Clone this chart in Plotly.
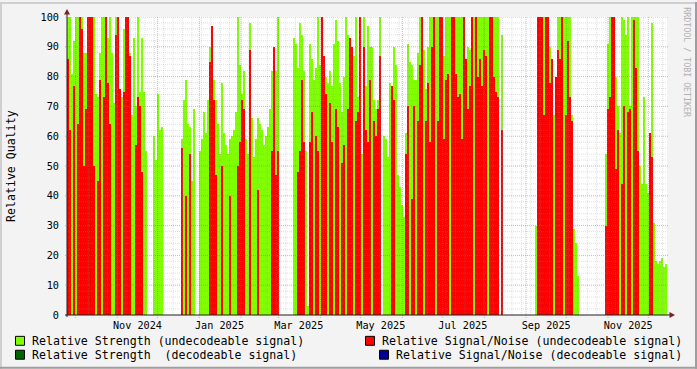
import pandas as pd
import plotly.graph_objects as go

# ---------------- data (one value per consolidation step, None = no data) ----------------
# Relative Strength (undecodeable signal)
strength_p1 = [100, 100, 81, 92, 100, 100, 100, 100, 88, 88,
               100, 100, 100, 100, 74, 73, 88, 100, 100, 100,
               93, 100, 88, 71, 100, 100, 70, 73, 96, 96,
               100, 88, 67, 93, 70, 100, 75, 93, 75, 55,
               None, None, None, 60, 52, 74, 62, 63, None, None]
strength_p2 = [None, None, None, None, None, None, None, 59, 72, 79,
               64, 63, 45, 69, None, None, 55, 59, 68, 61,
               72, 90, 97, 79, 72, 64, 54, 78, 61, 57,
               54, 59, 60, 62, 68, 100, 84, 74, 82, 59,
               54, 98, 66, 53, 59, 66, 64, 62, 57, 60]
strength_p3 = [63, 69, 82, 76, 82, 100, None, None, None, None,
               None, None, None, 93, 91, 83, 98, 94, 82, 55,
               3, 91, 86, 79, 83, 100, 84, 100, 87, 80,
               78, 82, 77, 91, 99, 92, 78, 68, 80, 100,
               94, 90, 77, 87, 100, 73, 79, 54, 100, 77]
strength_p4 = [97, 90, 90, 72, 69, 72, 100, None, 60, 59,
               53, 78, 76, 90, 84, 47, 43, 37, 33, 61,
               91, 85, 84, 79, 79, 88, 100, 100, 89, 76,
               90, 100, 100, 100, 100, 100, 100, 100, 87, 100,
               100, 100, 100, 100, 100, 100, 100, 100, 100, 75]
strength_p5 = [90, 89, 100, 100, 100, 100, 100, 100, 100, 100,
               100, 100, 100, 100, 100, 100, None, 94, None, None,
               None, None, None, None, None, None, None, None, None, None,
               None, None, None, None, 30, 100, 100, 100, 100, 100,
               100, 90, 78, 67, 54, 100, 100, 100, 100, 100]
strength_p6 = [100, 100, 67, 29, 24, 13, None, None, None, None,
               None, None, None, None, None, None, None, None, None, 54,
               91, 100, 85, 95, 80, 70, 61, 100, 99, 94,
               100, 70, 100, 100, 100, 100, 50, 44, 73, 44,
               41, 60, 98, 31, 18, 17, 18, 19, 16, 17]

# Relative Signal/Noise (undecodeable signal)
snr_p1 = [86, 62, 0, 77, 0, 64, 100, 96, 50, 69,
          100, 100, 100, 50, 0, 45, 79, 0, 73, 100,
          78, 64, 0, 0, 94, 100, 76, 0, 75, 100,
          100, 87, 0, 0, 57, 73, 70, 48, 0, 0,
          None, None, None, 0, 0, 0, 0, 0, None, None]
snr_p2 = [None, None, None, None, None, None, None, 56, 0, 40,
          0, 54, 0, 0, None, None, 0, 0, 0, 0,
          0, 85, 97, 72, 47, 0, 0, 50, 0, 0,
          0, 40, 0, 0, 0, 50, 58, 72, 69, 0,
          0, 89, 0, 0, 0, 42, 0, 0, 0, 0]
snr_p3 = [0, 0, 55, 90, 47, 55, None, None, None, None,
          None, None, None, 0, 0, 48, 55, 79, 58, 0,
          0, 58, 68, 0, 60, 55, 0, 100, 87, 74,
          0, 71, 58, 0, 69, 63, 0, 51, 57, 0,
          69, 93, 90, 0, 65, 68, 100, 0, 90, 62]
snr_p4 = [58, 79, 0, 65, 60, 69, 87, None, 0, 0,
          0, 0, 77, 72, 0, 0, 0, 0, 0, 54,
          70, 0, 39, 70, 0, 65, 84, 100, 0, 65,
          78, 58, 90, 100, 0, 65, 100, 100, 59, 79,
          81, 0, 100, 100, 81, 73, 74, 59, 100, 86]
snr_p5 = [69, 77, 100, 0, 100, 80, 86, 77, 89, 87,
          0, 100, 100, 80, 75, 73, None, 62, None, None,
          None, None, None, None, None, None, None, None, None, None,
          None, None, None, None, 0, 100, 100, 100, 67, 100,
          100, 78, 86, 0, 80, 89, 86, 100, 0, 67]
snr_p6 = [92, 73, 65, 0, 0, 0, None, None, None, None,
          None, None, None, None, None, None, None, None, None, 30,
          69, 73, 100, 100, 49, 62, 0, 44, 70, 0,
          68, 69, 0, 99, 83, 55, 0, 0, 0, 0,
          0, 61, 53, 0, 0, 0, 0, 0, 0, 0]

strength_undec = strength_p1 + strength_p2 + strength_p3 + strength_p4 + strength_p5 + strength_p6
snr_undec = snr_p1 + snr_p2 + snr_p3 + snr_p4 + snr_p5 + snr_p6

series_start = "2024-09-24 14:10"
step_hours = 35.7
x_label_months = ["2024-11-01", "2025-01-01", "2025-03-01", "2025-05-01",
                  "2025-07-01", "2025-09-01", "2025-11-01"]
x_label_text = ["Nov 2024", "Jan 2025", "Mar 2025", "May 2025",
                "Jul 2025", "Sep 2025", "Nov 2025"]
y_ticks = list(range(0, 101, 10))

legend_items = [
    ("Relative Strength (undecodeable signal)", "#80FF00"),
    ("Relative Signal/Noise (undecodeable signal)", "#FF0000"),
    ("Relative Strength\u00a0 (decodeable signal)", "#006400"),
    ("Relative Signal/Noise (decodeable signal)", "#000099"),
]

# ---------------- geometry ----------------
W, H = 697, 369
L, R, T, B = 67, 30, 15, 54
PW, PH = W - L - R, H - T - B

def px(x):
    return (x - L) / PW

def py(y):
    return (T + PH - y) / PH

step = pd.Timedelta(hours=step_hours)
t0 = pd.Timestamp(series_start)
n = len(strength_undec)
dates = [t0 + step * (i + 0.5) for i in range(n)]
t_end = t0 + step * n
bar_w = step.total_seconds() * 1000 * 1.02

FONT = "DejaVu Sans Mono"
GREEN = "#80FF00"
RED = "#FF0000"

fig = go.Figure()
fig.add_trace(go.Bar(x=dates, y=strength_undec, width=bar_w, marker=dict(color=GREEN, line=dict(width=0)),
                     name="Relative Strength (undecodeable signal)", showlegend=False))
fig.add_trace(go.Bar(x=dates, y=snr_undec, width=bar_w, marker=dict(color=RED, line=dict(width=0)),
                     name="Relative Signal/Noise (undecodeable signal)", showlegend=False))

shapes = []
MINOR = "rgba(143,143,143,0.28)"
MAJOR = "rgba(224,80,80,0.5)"
DASH = "1px,1px"
# horizontal grid
for v in range(2, 100, 2):
    if v % 10:
        shapes.append(dict(type="line", xref="paper", yref="y", x0=0, x1=1, y0=v, y1=v,
                           line=dict(color=MINOR, width=1, dash=DASH), layer="above"))
for v in range(10, 101, 10):
    shapes.append(dict(type="line", xref="paper", yref="y", x0=px(L - 2), x1=px(L + PW + 2), y0=v, y1=v,
                       line=dict(color=MAJOR, width=1, dash=DASH), layer="above"))
# vertical grid
for d in pd.date_range("2024-09-26 12:00", t_end, freq="7D"):
    if d > t0:
        shapes.append(dict(type="line", xref="x", yref="paper", x0=d, x1=d, y0=0, y1=1,
                           line=dict(color=MINOR, width=1, dash=DASH), layer="above"))
for d in pd.date_range("2024-10-01", t_end, freq="MS"):
    shapes.append(dict(type="line", xref="x", yref="paper", x0=d, x1=d, y0=py(T + PH + 3), y1=1,
                       line=dict(color=MAJOR, width=1, dash=DASH), layer="above"))
# axes with arrows
AX = "#1f1f1f"
ARROW = "#7f1f1f"
shapes.append(dict(type="line", xref="paper", yref="paper", x0=px(L - 2), x1=px(L + PW + 4),
                   y0=0, y1=0, line=dict(color=AX, width=1), layer="above"))
shapes.append(dict(type="line", xref="paper", yref="paper", x0=0, x1=0,
                   y0=py(T + PH + 2), y1=py(T - 4), line=dict(color=AX, width=1), layer="above"))
shapes.append(dict(type="path", xref="paper", yref="paper",
                   path=f"M {px(L-3)} {py(T-2.5)} L {px(L+3)} {py(T-2.5)} L {px(L)} {py(T-8)} Z",
                   fillcolor=ARROW, line=dict(width=0), layer="above"))
shapes.append(dict(type="path", xref="paper", yref="paper",
                   path=f"M {px(L+PW+2.5)} {py(T+PH-3)} L {px(L+PW+2.5)} {py(T+PH+3)} L {px(L+PW+8)} {py(T+PH)} Z",
                   fillcolor=ARROW, line=dict(width=0), layer="above"))
# outer frame (shading)
shapes.append(dict(type="line", xref="paper", yref="paper", x0=px(0), x1=px(W), y0=py(1), y1=py(1),
                   line=dict(color="#CFCFCF", width=2)))
shapes.append(dict(type="line", xref="paper", yref="paper", x0=px(1), x1=px(1), y0=py(0), y1=py(H),
                   line=dict(color="#CFCFCF", width=2)))
shapes.append(dict(type="line", xref="paper", yref="paper", x0=px(0), x1=px(W), y0=py(H - 1), y1=py(H - 1),
                   line=dict(color="#9E9E9E", width=2)))
shapes.append(dict(type="line", xref="paper", yref="paper", x0=px(W - 1), x1=px(W - 1), y0=py(0), y1=py(H),
                   line=dict(color="#9E9E9E", width=2)))

# legend boxes and texts
annotations = []
legend_pos = [(15.5, 341, 30), (365.5, 341, 380), (15.5, 355, 30), (379.5, 355, 394)]
for (label, color), (bx, cy, tx) in zip(legend_items, legend_pos):
    shapes.append(dict(type="rect", xref="paper", yref="paper",
                       x0=px(bx), x1=px(bx + 9), y0=py(cy - 4.5), y1=py(cy + 4.5),
                       fillcolor=color, line=dict(color="#000000", width=1)))
    annotations.append(dict(text=label, xref="paper", yref="paper", x=px(tx), y=py(cy),
                            xanchor="left", yanchor="middle", showarrow=False,
                            font=dict(family=FONT, size=11.6, color="#000000")))

annotations.append(dict(text="Relative Quality", xref="paper", yref="paper", x=px(11), y=0.5,
                        textangle=-90, showarrow=False, xanchor="center", yanchor="middle",
                        font=dict(family=FONT, size=11.6, color="#000000")))
annotations.append(dict(text="RRDTOOL / TOBI OETIKER", xref="paper", yref="paper", x=px(687.5), y=py(60),
                        textangle=90, showarrow=False, xanchor="center", yanchor="middle",
                        font=dict(family=FONT, size=8.3, color="#B0B0B0")))

tickvals = [pd.Timestamp(m) + pd.Timedelta(days=15) for m in x_label_months]

fig.update_layout(
    width=W, height=H,
    margin=dict(l=L, r=R, t=T, b=B, pad=0),
    paper_bgcolor="#F3F3F3",
    plot_bgcolor="#FFFFFF",
    barmode="overlay",
    bargap=0,
    showlegend=False,
    shapes=shapes,
    annotations=annotations,
    xaxis=dict(type="date", range=[t0, t_end], tickvals=tickvals, ticktext=x_label_text,
               showgrid=False, zeroline=False, ticks="", showline=False,
               tickfont=dict(family=FONT, size=10.2, color="#000000"), ticklabelstandoff=3),
    yaxis=dict(range=[0, 100], tickvals=y_ticks, showgrid=False, zeroline=False,
               ticks="", showline=False, ticklabelstandoff=7,
               tickfont=dict(family=FONT, size=10.2, color="#000000")),
)

fig.write_html("out.html")
